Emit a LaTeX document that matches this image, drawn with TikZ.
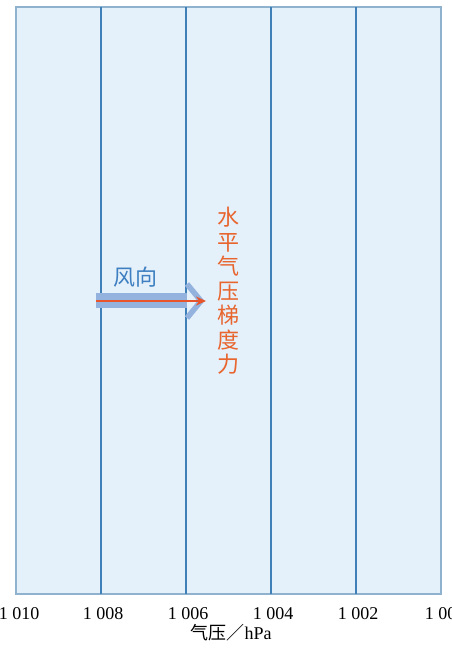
\documentclass[tikz,border=0pt]{standalone}
\usepackage{fontspec}
\setmainfont{Liberation Serif}
\newfontfamily\cjk{Noto Sans CJK SC}[Scale=1]
\usetikzlibrary{arrows.meta}
\definecolor{bgfill}{HTML}{E4F0FA}
\definecolor{frameclr}{HTML}{8FB3CF}
\definecolor{isobar}{HTML}{3F80B8}
\definecolor{bandclr}{HTML}{93B3DE}
\definecolor{redline}{HTML}{E8552A}
\definecolor{windtxt}{HTML}{3D7FC0}
\definecolor{forcetxt}{HTML}{E8652E}
\tikzset{
  isoline/.style={draw=isobar, line width=1.6pt},
  ticklabel/.style={font=\fontsize{18}{20}\selectfont, text=black, inner sep=0pt, anchor=center},
}
\begin{document}
\begin{tikzpicture}[x=1pt,y=-1pt]
\useasboundingbox (0,0) rectangle (452,650);
% panel
\fill[bgfill] (16,7) rectangle (441,594);
\draw[frameclr, line width=1.2pt] (16,7) rectangle (441,594);
% isobars
\foreach \i/\x in {1/101,2/186,3/271,4/356}{
  \coordinate (t\i) at (\x,7);
  \coordinate (b\i) at (\x,594);
  \draw[isoline] (t\i) -- (b\i);
}
% tick labels
\node[ticklabel] (l0) at (19,614) {1 010};
\node[ticklabel] (l1) at (103,614) {1 008};
\node[ticklabel] (l2) at (188,614) {1 006};
\node[ticklabel] (l3) at (273,614) {1 004};
\node[ticklabel] (l4) at (358,614) {1 002};
\node[ticklabel] (l5) at (445,614) {1 000};
\node[inner sep=0pt, font=\fontsize{18}{20}\selectfont] (axis) at (231,633) {{\cjk 气压／}hPa};
% wind direction arrow
\fill[bandclr] (96,293) rectangle (187,308);
\coordinate (c1) at (187,284);
\coordinate (c2) at (201,301);
\coordinate (c3) at (187,318);
\draw[bandclr, line width=5.5pt, line join=miter] (c1) -- (c2) -- (c3);
\node[inner sep=0pt, text=windtxt, font=\fontsize{22}{24}\selectfont\cjk] (wind) at (135,277) {风向};
% pressure gradient force
\coordinate (fs) at (96,301);
\coordinate (fe) at (206,301);
\draw[redline, line width=1.8pt, -{Stealth[length=10pt,width=9pt]}] (fs) -- (fe);
\node[inner sep=0pt, text=forcetxt, align=center, font=\fontsize{22}{24.5}\selectfont\cjk] (force) at (228,291)
  {水\\平\\气\\压\\梯\\度\\力};
\end{tikzpicture}
\end{document}
